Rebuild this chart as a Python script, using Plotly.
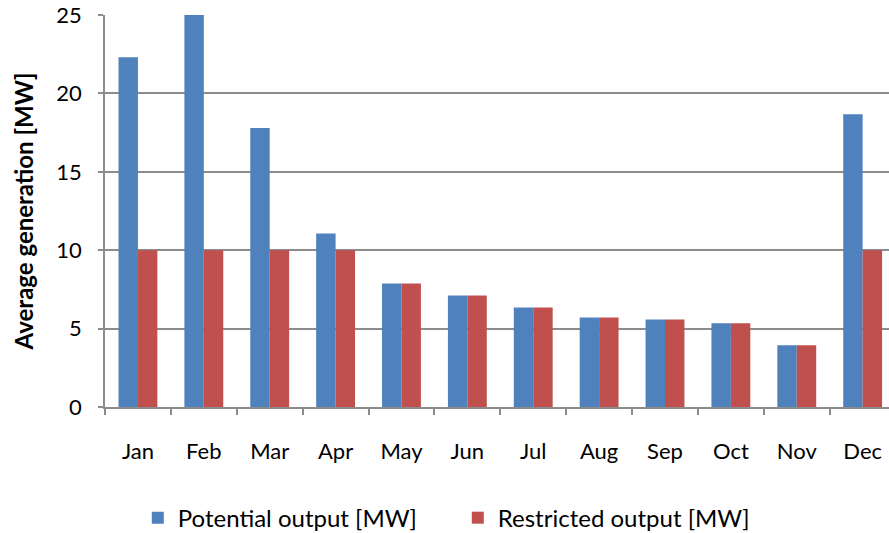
import plotly.graph_objects as go

months = ["Jan", "Feb", "Mar", "Apr", "May", "Jun", "Jul", "Aug", "Sep", "Oct", "Nov", "Dec"]
potential = [22.3, 25.0, 17.8, 11.07, 7.88, 7.11, 6.35, 5.71, 5.58, 5.34, 3.94, 18.67]
restricted = [10.0, 10.0, 10.0, 10.0, 7.88, 7.11, 6.35, 5.71, 5.58, 5.34, 3.94, 10.0]
y_ticks = [0, 5, 10, 15, 20, 25]

FONT = "Lato"
GRID = "#8c8c8c"

fig = go.Figure()
fig.add_trace(go.Bar(x=months, y=potential, name="Potential output [MW]",
                     marker=dict(color="#4F81BD", line=dict(width=0))))
fig.add_trace(go.Bar(x=months, y=restricted, name="Restricted output [MW]",
                     marker=dict(color="#C0504D", line=dict(width=0))))

fig.update_layout(
    width=889, height=533,
    margin=dict(l=105, r=0, t=15, b=126, autoexpand=False),
    paper_bgcolor="white", plot_bgcolor="white",
    barmode="group", bargap=0.41, bargroupgap=0,
    font=dict(family=FONT, size=22, color="#000000"),
    showlegend=True,
    legend=dict(orientation="h", x=0.155, xref="container", xanchor="left",
                y=0.028, yref="container", yanchor="middle",
                font=dict(family=FONT, size=24), itemwidth=30,
                entrywidth=275, traceorder="normal"),
)
fig.update_xaxes(
    type="category", categoryorder="array", categoryarray=months,
    range=[-0.5, 11.4], automargin=False,
    showline=True, linecolor=GRID, linewidth=1.5,
    ticks="outside", tickson="boundaries", ticklen=6, tickcolor=GRID, tickwidth=1.5,
    showgrid=False, ticklabelstandoff=24,
    tickfont=dict(family=FONT, size=22),
)
fig.update_yaxes(
    range=[0, 25], tickvals=y_ticks, automargin=False,
    showline=True, linecolor=GRID, linewidth=1.5,
    ticks="outside", ticklen=5, tickcolor=GRID, tickwidth=1.5,
    showgrid=True, gridcolor=GRID, gridwidth=1.5,
    zeroline=False, ticklabelstandoff=12,
    tickfont=dict(family=FONT, size=22),
    title=dict(text="<b>Average generation [MW]</b>", font=dict(family=FONT, size=24), standoff=16),
)

fig.write_html("out.html", config={"displayModeBar": False},
               post_script="document.body.style.margin='0';")
